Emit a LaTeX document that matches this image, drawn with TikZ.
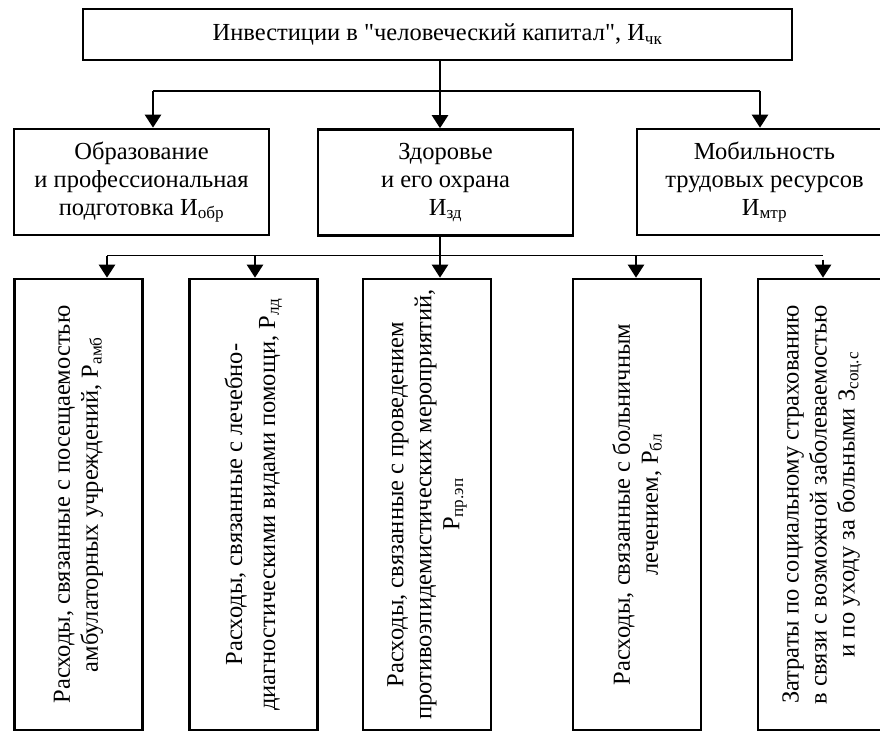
\documentclass[tikz,border=0pt]{standalone}
\usepackage{fontspec}
\defaultfontfeatures[\rmfamily]{}
\setmainfont{Liberation Serif}
\usetikzlibrary{arrows.meta}

\tikzset{
  box/.style={draw, line width=2.6pt, align=center, inner sep=2pt},
  vbox/.style={box, rotate=90, minimum width=451pt, minimum height=128pt},
  arr/.style={line width=2.4pt, -{Triangle[length=13pt,width=16pt]}},
  bus/.style={line width=1.3pt}
}

\begin{document}
\begin{tikzpicture}[x=1pt, y=-1pt, font=\fontsize{24.5}{28}\selectfont]
  \useasboundingbox (0,0) rectangle (880,733);

  %%% top
  \node[box, minimum width=709pt, minimum height=51pt] (top) at (437.5,34.5)
    {Инвестиции в "человеческий капитал", И\textsubscript{чк}};

  %%% second row
  \node[box, minimum width=255pt, minimum height=106pt] (obr) at (141.5,182)
    {Образование\\и профессиональная\\подготовка И\textsubscript{обр}};
  \node[box, minimum width=255pt, minimum height=106pt] (zd) at (445.5,182.5)
    {Здоровье\\и его охрана\\И\textsubscript{зд}};
  \node[box, minimum width=255pt, minimum height=106pt] (mtr) at (764.5,182)
    {Мобильность\\трудовых ресурсов\\И\textsubscript{мтр}};

  %%% third row
  \node[vbox] (amb) at (78.5,504.5)
    {Расходы, связанные с посещаемостью\\амбулаторных учреждений, Р\textsubscript{амб}};
  \node[vbox] (ld) at (253.5,504.5)
    {Расходы, связанные с лечебно-\\[5pt]диагностическими видами помощи, Р\textsubscript{лд}};
  \node[vbox] (prep) at (427,504.5)
    {Расходы, связанные с проведением\\противоэпидемистических мероприятий,\\Р\textsubscript{пр.эп}};
  \node[vbox] (bl) at (637,504.5)
    {Расходы, связанные с больничным\\лечением, Р\textsubscript{бл}};
  \node[vbox] (socs) at (822,504.5)
    {Затраты по социальному страхованию\\в связи с возможной заболеваемостью\\и по уходу за больными З\textsubscript{соц.с}};

  %%% connectors
  \coordinate (hubA) at (440,91);
  \coordinate (sA1) at (153,91);
  \coordinate (sA3) at (760,91);
  \draw[bus] (sA1) -- (sA3);
  \draw[arr] (top.south -| hubA) -- (zd.north -| hubA);
  \draw[arr] (sA1) -- (sA1 |- obr.north);
  \draw[arr] (sA3) -- (sA3 |- mtr.north);

  \coordinate (hubB) at (440,255.5);
  \coordinate (sB1) at (107,255.5);
  \coordinate (sB2) at (255,255.5);
  \coordinate (sB4) at (636,255.5);
  \coordinate (sB5) at (823,255.5);
  \draw[line width=1pt] (sB1) -- (sB5);
  \draw[arr] (zd.south -| hubB) -- (prep.east -| hubB);
  \draw[arr] (sB1) -- (sB1 |- amb.east);
  \draw[arr] (sB2) -- (sB2 |- ld.east);
  \draw[arr] (sB4) -- (sB4 |- bl.east);
  \draw[arr] ([yshift=-4pt]sB5) -- (sB5 |- socs.east);
\end{tikzpicture}
\end{document}
